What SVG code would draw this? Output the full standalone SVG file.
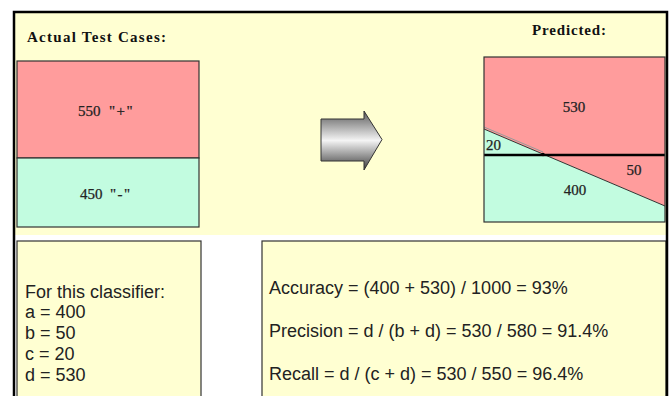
<svg xmlns="http://www.w3.org/2000/svg" width="670" height="396" viewBox="0 0 670 396">
<defs>
<linearGradient id="arrowGrad" x1="0" y1="0" x2="0" y2="1">
<stop offset="0" stop-color="#5a5a5a"/>
<stop offset="0.5" stop-color="#f4f4f4"/>
<stop offset="1" stop-color="#3c3c3c"/>
</linearGradient>
</defs>
<style>
.panel{fill:#FFFFD2;}
.box{stroke:#333;stroke-width:1.2;}
.red{fill:#FF9C9C;}
.green{fill:#C2FCE0;}
.hdr{font-family:"Liberation Serif",serif;font-weight:bold;font-size:15px;fill:#111;}
.num{font-family:"Liberation Serif",serif;font-size:15px;fill:#222;stroke:#222;stroke-width:0.25;}
.q{letter-spacing:1.5px;}
.txt{font-family:"Liberation Sans",Arial,sans-serif;font-size:18px;fill:#222;}
.frame{stroke:#000;stroke-width:2.5;fill:none;}
</style>
<rect x="0" y="0" width="670" height="396" fill="#fff"/>
<g id="top-panel">
<rect class="panel" x="14" y="12" width="653" height="223"/>
<text class="hdr" x="27" y="42" textLength="139" lengthAdjust="spacing">Actual Test Cases:</text>
<text class="hdr" x="532" y="35" textLength="74" lengthAdjust="spacing">Predicted:</text>
</g>
<g id="actual-positive">
<rect class="red box" x="17" y="61" width="182" height="97"/>
<text class="num" x="78" y="116">550 <tspan class="q" x="109">"+"</tspan></text>
</g>
<g id="actual-negative">
<rect class="green box" x="17" y="158" width="182" height="69"/>
<text class="num" x="80" y="199">450 <tspan class="q" x="110">"-"</tspan></text>
</g>
<g id="arrow">
<path d="M321,119 L364,119 L364,111 L382,139.5 L364,170 L364,161 L321,161 Z" fill="url(#arrowGrad)" stroke="#333" stroke-width="1"/>
</g>
<g id="predicted">
<path class="red" d="M484,57 H665 V206 L484,129 Z"/>
<path class="green" d="M484,129 L665,206 V222 H484 Z"/>
<line x1="484" y1="127" x2="543" y2="152" stroke="#999" stroke-width="1"/>
<line x1="484" y1="129" x2="665" y2="206" stroke="#333" stroke-width="1"/>
<line x1="484" y1="155" x2="665" y2="155" stroke="#000" stroke-width="2.5"/>
<circle cx="543" cy="154.5" r="1.8" fill="#000"/>
<rect class="box" x="484" y="57" width="181" height="165" fill="none"/>
<text class="num" x="574" y="112" text-anchor="middle">530</text>
<text class="num" x="486" y="150">20</text>
<text class="num" x="634" y="175" text-anchor="middle">50</text>
<text class="num" x="575" y="195" text-anchor="middle">400</text>
</g>
<g id="classifier-box">
<rect class="panel box" x="17" y="241" width="184" height="160"/>
<text class="txt" x="25" y="298">For this classifier:</text>
<text class="txt" x="25" y="318">a = 400</text>
<text class="txt" x="25" y="339">b = 50</text>
<text class="txt" x="25" y="360">c = 20</text>
<text class="txt" x="25" y="381">d = 530</text>
</g>
<g id="metrics-box">
<rect class="panel box" x="262" y="241" width="404" height="160"/>
<text class="txt" x="269" y="294">Accuracy = (400 + 530) / 1000 = 93%</text>
<text class="txt" x="269" y="337">Precision = d / (b + d) = 530 / 580 = 91.4%</text>
<text class="txt" x="269" y="380">Recall = d / (c + d) = 530 / 550 = 96.4%</text>
</g>
<g id="frame">
<path class="frame" d="M14,397 V12 H667 V397"/>
</g>
</svg>
